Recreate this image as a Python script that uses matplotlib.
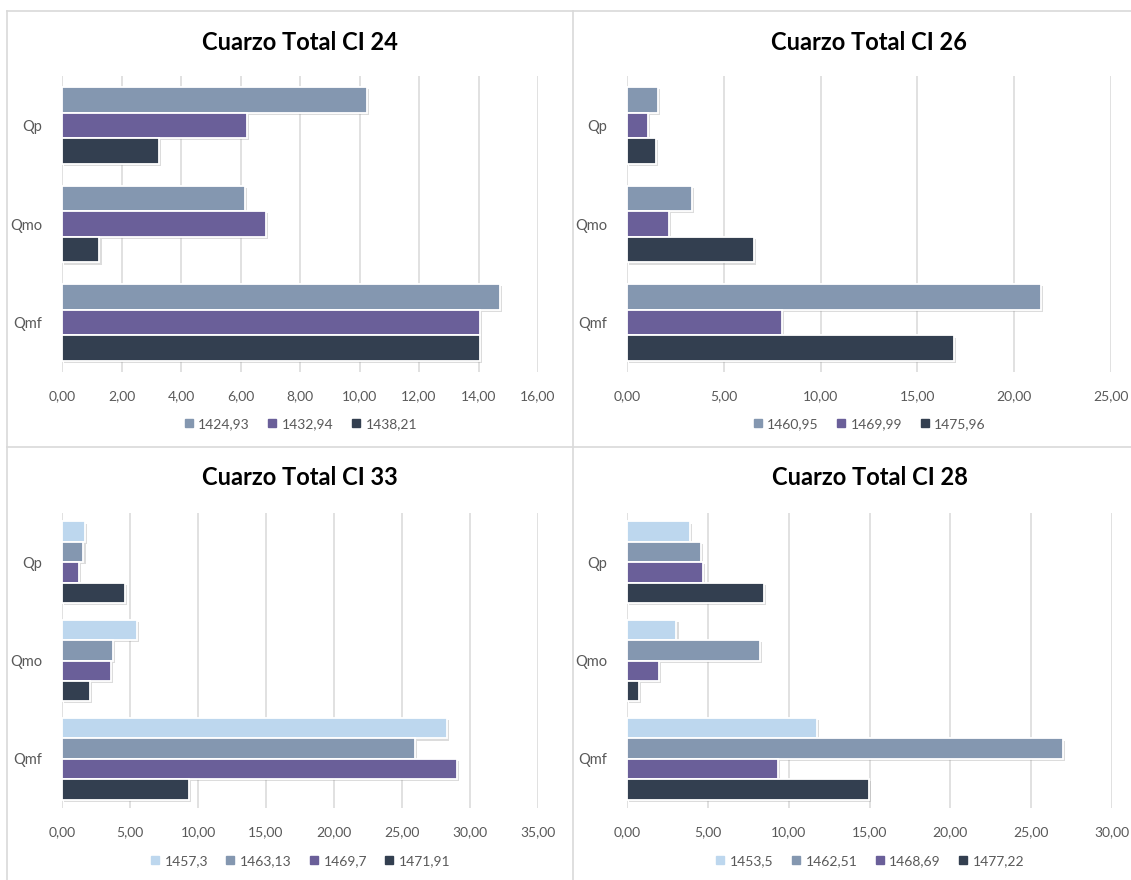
import numpy as np
import matplotlib.pyplot as plt
import matplotlib.patheffects as pe
from matplotlib.lines import Line2D
from matplotlib.ticker import FuncFormatter, MultipleLocator

plt.rcParams['font.family'] = ['Lato', 'DejaVu Sans']

categories = ['Qp', 'Qmo', 'Qmf']

# CI 24
ci24_labels = ['1424,93', '1432,94', '1438,21']
ci24_1424 = [10.26, 6.14, 14.71]
ci24_1432 = [6.23, 6.86, 14.05]
ci24_1438 = [3.26, 1.26, 14.05]

# CI 26
ci26_labels = ['1460,95', '1469,99', '1475,96']
ci26_1460 = [1.62, 3.35, 21.39]
ci26_1469 = [1.09, 2.16, 8.01]
ci26_1475 = [1.50, 6.54, 16.88]

# CI 33
ci33_labels = ['1457,3', '1463,13', '1469,7', '1471,91']
ci33_1457 = [1.66, 5.50, 28.32]
ci33_1463 = [1.58, 3.77, 25.92]
ci33_1469 = [1.26, 3.61, 29.04]
ci33_1471 = [4.62, 2.08, 9.35]

# CI 28
ci28_labels = ['1453,5', '1462,51', '1468,69', '1477,22']
ci28_1453 = [3.89, 3.06, 11.77]
ci28_1462 = [4.59, 8.21, 26.99]
ci28_1468 = [4.70, 2.00, 9.34]
ci28_1477 = [8.46, 0.74, 14.97]

LIGHT = '#BDD7EE'
STEEL = '#8497B0'
PURPLE = '#6A5F99'
NAVY = '#333F50'
GRID = '#D9D9D9'
TXT = '#595959'

W, H = 1131, 880


def px_axes(fig, x0, x1, y0, y1):
    # pixel box (top-left origin) -> figure axes
    return fig.add_axes([x0 / W, (H - y1) / H, (x1 - x0) / W, (y1 - y0) / H])


def draw_panel(ax, title, title_y, series, labels, colors, xmax, step, bar_h, legend_y):
    n = len(series)
    ypos = np.array([2, 1, 0])  # Qp on top
    for i, (vals, lab, col) in enumerate(zip(series, labels, colors)):
        off = ((n - 1) / 2 - i) * bar_h
        ax.barh(ypos + off, vals, height=bar_h, color=col, edgecolor='white',
                linewidth=1.3, label=lab, zorder=3,
                path_effects=[pe.SimplePatchShadow(offset=(1.5, -1.5), shadow_rgbFace='#8c8c8c', alpha=0.3),
                              pe.Normal()])
    ax.set_xlim(0, xmax)
    ax.set_ylim(-0.5, 2.5)
    ax.xaxis.set_major_locator(MultipleLocator(step))
    ax.xaxis.set_major_formatter(FuncFormatter(lambda v, p: f'{v:.2f}'.replace('.', ',')))
    ax.set_yticks(ypos)
    ax.set_yticklabels(categories)
    ax.grid(axis='x', color=GRID, linewidth=1.1, zorder=0)
    ax.set_axisbelow(True)
    for s in ax.spines.values():
        s.set_visible(False)
    ax.tick_params(axis='both', length=0, colors=TXT, labelsize=10)
    ax.tick_params(axis='y', labelsize=10.5, pad=14)
    ax.tick_params(axis='x', pad=13)

    bb = ax.get_position()
    cx = bb.x0 + bb.width / 2
    fig.text(cx, (H - title_y) / H, title, ha='center', va='center',
             fontsize=17, fontweight='bold', color='black')

    handles = [Line2D([], [], marker='s', linestyle='none', markersize=6,
                      markerfacecolor=c, markeredgecolor=c) for c in colors]
    fig.legend(handles, labels, loc='center', bbox_to_anchor=(cx, (H - legend_y) / H),
               ncol=n, frameon=False, fontsize=10, labelcolor=TXT,
               handlelength=0.8, handletextpad=0.3, columnspacing=1.2)


fig = plt.figure(figsize=(W / 100, H / 100), dpi=100)
fig.patch.set_facecolor('white')

# chart borders
for (xa, xb, ya, yb) in [(7, W, 11, 11), (7, 7, 11, H), (572.5, 572.5, 11, H), (7, W, 447.5, 447.5)]:
    fig.add_artist(Line2D([xa / W, xb / W], [(H - ya) / H, (H - yb) / H],
                          color=GRID, linewidth=1.2, transform=fig.transFigure))

ax1 = px_axes(fig, 62, 538, 76, 372)
draw_panel(ax1, 'Cuarzo Total CI 24', 42, [ci24_1424, ci24_1432, ci24_1438], ci24_labels,
           [STEEL, PURPLE, NAVY], 16, 2, 0.26, 424)

ax2 = px_axes(fig, 627, 1111, 76, 372)
draw_panel(ax2, 'Cuarzo Total CI 26', 42, [ci26_1460, ci26_1469, ci26_1475], ci26_labels,
           [STEEL, PURPLE, NAVY], 25, 5, 0.26, 424)

ax3 = px_axes(fig, 62, 538, 513, 808)
draw_panel(ax3, 'Cuarzo Total CI 33', 477, [ci33_1457, ci33_1463, ci33_1469, ci33_1471], ci33_labels,
           [LIGHT, STEEL, PURPLE, NAVY], 35, 5, 0.207, 861)

ax4 = px_axes(fig, 627, 1112, 513, 808)
draw_panel(ax4, 'Cuarzo Total CI 28', 477, [ci28_1453, ci28_1462, ci28_1468, ci28_1477], ci28_labels,
           [LIGHT, STEEL, PURPLE, NAVY], 30, 5, 0.207, 861)

fig.savefig('out.png', dpi=100)
